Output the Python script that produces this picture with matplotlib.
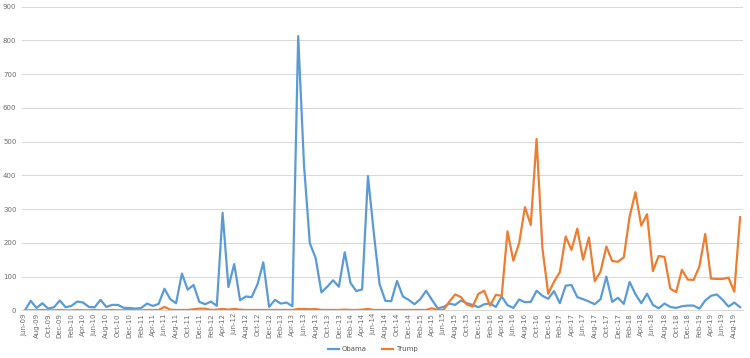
import matplotlib.pyplot as plt

# meses de jun-09 a sep-19
meses = []
nombres = ['Jan', 'Feb', 'Mar', 'Apr', 'May', 'Jun', 'Jul', 'Aug', 'Sep', 'Oct', 'Nov', 'Dec']
anio, mes = 2009, 6
while (anio, mes) <= (2019, 9):
    meses.append(f'{nombres[mes - 1]}-{anio % 100:02d}')
    mes += 1
    if mes > 12:
        mes = 1
        anio += 1

obama = [0, 28, 7, 21, 5, 9, 29, 9, 13, 26, 23, 10, 9, 31, 10, 16, 16, 7, 7, 5,
         7, 20, 13, 19, 64, 33, 21, 109, 61, 75, 25, 18, 26, 13, 289, 69, 137, 30, 41, 39,
         77, 142, 10, 31, 20, 23, 12, 813, 430, 199, 155, 53, 70, 89, 70, 172, 81, 57, 62, 398,
         230, 77, 28, 27, 87, 41, 31, 18, 33, 58, 31, 6, 10, 20, 16, 29, 21, 16, 9, 18,
         20, 10, 41, 15, 7, 32, 24, 25, 58, 43, 34, 57, 21, 73, 75, 39, 33, 26, 18, 33,
         100, 25, 37, 19, 84, 48, 21, 49, 16, 6, 20, 10, 7, 12, 14, 14, 5, 29, 43, 47,
         31, 11, 23, 9]

trump = [0, 0, 0, 1, 0, 0, 1, 0, 0, 1, 0, 0, 1, 0, 0, 1, 0, 0, 1, 0,
         0, 1, 1, 1, 10, 2, 1, 1, 1, 3, 5, 5, 1, 2, 4, 2, 4, 2, 1, 1,
         1, 1, 1, 1, 1, 1, 1, 4, 4, 3, 4, 1, 1, 1, 1, 2, 1, 1, 2, 4,
         1, 1, 1, 1, 1, 1, 1, 1, 1, 1, 6, 1, 1, 26, 47, 39, 17, 11, 49, 58,
         14, 46, 43, 234, 147, 199, 306, 253, 508, 184, 49, 85, 113, 219, 179, 242, 150, 216, 86, 115,
         189, 146, 144, 157, 278, 350, 251, 285, 116, 161, 158, 64, 54, 120, 91, 90, 130, 226, 94, 93,
         93, 97, 55, 276]

x = list(range(len(meses)))

fig = plt.figure(figsize=(7.5, 3.58), dpi=100)
ax = fig.add_axes([22 / 750, 47.7 / 358, 721 / 750, 303.6 / 358])

ax.plot(x, obama, color='#5B9BD5', linewidth=1.6, label='Obama', solid_joinstyle='round')
ax.plot(x, trump, color='#ED7D31', linewidth=1.6, label='Trump', solid_joinstyle='round')

ax.set_xlim(-0.5, len(meses) - 0.5)
ax.set_ylim(0, 900)
ax.set_yticks(range(0, 901, 100))
ax.set_xticks(x[::2])
ax.set_xticklabels(meses[::2], rotation=90, fontsize=5, color='#6E6E6E')
ax.tick_params(axis='y', labelsize=5, labelcolor='#6E6E6E', length=0, pad=4)
ax.tick_params(axis='x', length=0, pad=2)

ax.grid(axis='y', color='#D9D9D9', linewidth=0.75)
ax.set_axisbelow(True)
for lado in ['top', 'right', 'left']:
    ax.spines[lado].set_visible(False)
ax.spines['bottom'].set_color('#D9D9D9')
ax.spines['bottom'].set_linewidth(0.75)

fig.legend(loc='center', bbox_to_anchor=(373 / 750, 1 - 349 / 358), ncol=2, frameon=False,
           fontsize=5, labelcolor='#595959', handlelength=1.6, columnspacing=2.2, handletextpad=0.4)

fig.savefig('out.png', dpi=100)
